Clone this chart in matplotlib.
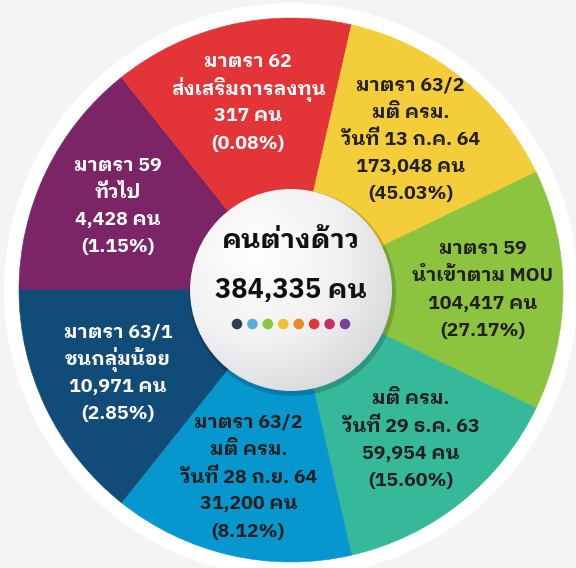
import numpy as np
import matplotlib
matplotlib.use("Agg")
import matplotlib.pyplot as plt
from matplotlib.patches import Circle
from matplotlib.colors import LinearSegmentedColormap

# ---------------- data ----------------
title = "คนต่างด้าว"
total = 384335
headings = [
    ["มาตรา 59", "ทั่วไป"],
    ["มาตรา 62", "ส่งเสริมการลงทุน"],
    ["มาตรา 63/2", "มติ ครม.", "วันที่ 13 ก.ค. 64"],
    ["มาตรา 59", "นำเข้าตาม MOU"],
    ["มติ ครม.", "วันที่ 29 ธ.ค. 63"],
    ["มาตรา 63/2", "มติ ครม.", "วันที่ 28 ก.ย. 64"],
    ["มาตรา 63/1", "ชนกลุ่มน้อย"],
]
counts = [4428, 317, 173048, 104417, 59954, 31200, 10971]
percents = [1.15, 0.08, 45.03, 27.17, 15.60, 8.12, 2.85]
slice_weights = [1, 1, 1, 1, 1, 1, 1]   # the infographic draws equal slices
colors = ["#7b2566", "#e33437", "#f4cd3b", "#8cc43f", "#36b99b", "#0797cf", "#114b78"]
text_colors = ["white", "white", "#231f20", "#231f20", "#231f20", "#231f20", "white"]
dot_colors = ["#2c3e50", "#5aaed8", "#8cc43f", "#f0c030", "#ec8a2a", "#e33437", "#c2306a", "#7c3f98"]

FONT = ["IBM Plex Sans Thai Looped", "DejaVu Sans"]
plt.rcParams["font.family"] = FONT

W, H = 576, 568
fig = plt.figure(figsize=(W / 100, H / 100), dpi=100)
fig.patch.set_facecolor("#f4f4f4")
ax = fig.add_axes([0, 0, 1, 1])
cx, cy = 291, H - 290
R = 272

ax.add_patch(Circle((cx, cy), R + 15, facecolor="white", edgecolor="none", zorder=0))

wedges, _ = ax.pie(slice_weights, colors=colors, startangle=180, counterclock=False,
                   radius=R, center=(cx, cy), wedgeprops=dict(linewidth=0.4))
for w, col in zip(wedges, colors):
    w.set_zorder(1)
    w.set_edgecolor(col)

# labels
start = 180.0
step = 360.0 / len(slice_weights)
line_h = 27.2
for i, (head, c, p) in enumerate(zip(headings, counts, percents)):
    mid = np.deg2rad(start - step * (i + 0.5))
    lx = cx + 192 * np.cos(mid)
    ly = cy + 192 * np.sin(mid)
    lines = head + [f"{c:,} คน", f"({p:.2f}%)"]
    n = len(lines)
    for k, t in enumerate(lines):
        yy = ly + ((n - 1) / 2 - k) * line_h
        ax.text(lx, yy, t, ha="center", va="center", fontsize=14, fontweight="bold",
                color=text_colors[i], zorder=5)

# center circle: shadow + gradient disc
cr = 101
ax.add_patch(Circle((cx + 1.5, cy - 2.5), cr + 2.5, facecolor="#000000", alpha=0.18,
                    edgecolor="none", zorder=2))
disc = Circle((cx, cy), cr, facecolor="none", edgecolor="none", zorder=3)
ax.add_patch(disc)
gx, gy = np.meshgrid(np.linspace(-1, 1, 300), np.linspace(1, -1, 300))
d = np.sqrt((gx + 0.35) ** 2 + (gy - 0.35) ** 2) / 1.75
cmap = LinearSegmentedColormap.from_list("g", ["#ffffff", "#f1f1f2", "#cfd0d3"])
im = ax.imshow(d, cmap=cmap, vmin=0, vmax=1, extent=[cx - cr, cx + cr, cy - cr, cy + cr],
               zorder=3, interpolation="bilinear")
im.set_clip_path(disc)

ax.text(cx, H - 241, title, ha="center", va="center", fontsize=19.5, fontweight="bold",
        color="#111111", zorder=6)
ax.text(cx, H - 290, f"{total:,} คน", ha="center", va="center", fontsize=19.5,
        fontweight="bold", color="#111111", zorder=6)
dx0, dx1 = 237, 345
for j, dc in enumerate(dot_colors):
    x = dx0 + (dx1 - dx0) * j / (len(dot_colors) - 1)
    ax.add_patch(Circle((x, H - 324), 5.3, facecolor=dc, edgecolor="none", zorder=6))

ax.set_xlim(0, W)
ax.set_ylim(0, H)
ax.set_aspect("equal")
ax.axis("off")
fig.savefig("out.png", dpi=100, facecolor=fig.get_facecolor())
